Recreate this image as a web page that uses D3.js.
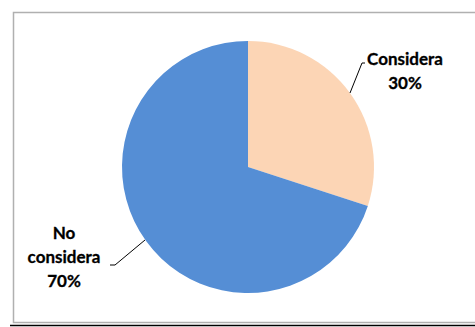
<!DOCTYPE html>
<html>
<head>
<meta charset="utf-8">
<script src="https://cdn.jsdelivr.net/npm/d3@7"></script>
<style>
  html, body { margin: 0; padding: 0; background: #fff; }
  svg { display: block; }
  .lbl { font-family: Lato, "Liberation Sans", sans-serif; font-weight: bold; font-size: 17px; fill: #000; stroke: #000; stroke-width: 0.3px; }
</style>
</head>
<body>
<svg id="chart" width="475" height="327"></svg>
<script>
// Share of respondents
const categories = ["Considera", "No considera"];
const values = [30, 70];
const labelLines = [["Considera", "30%"], ["No", "considera", "70%"]];
const colors = ["#FCD5B5", "#558ED5"];

const svg = d3.select("#chart");

// Outer frame
svg.append("rect")
  .attr("x", 13.5).attr("y", 12.5)
  .attr("width", 470).attr("height", 310)
  .attr("fill", "#fff")
  .attr("stroke", "#b0b0b0").attr("stroke-width", 1.5);
svg.append("line")
  .attr("x1", 10).attr("x2", 475)
  .attr("y1", 325.5).attr("y2", 325.5)
  .attr("stroke", "#000").attr("stroke-width", 1.5);

const cx = 248, cy = 167, r = 126;
const g = svg.append("g").attr("transform", `translate(${cx},${cy})`);

const pie = d3.pie().sort(null).value(d => d.v);
const data = pie(categories.map((c, i) => ({ c, v: values[i], i })));
const arc = d3.arc().innerRadius(0).outerRadius(r);

g.selectAll("path.slice")
  .data(data)
  .join("path")
  .attr("class", "slice")
  .attr("d", arc)
  .attr("fill", (d, i) => colors[i]);

// Label positions and leader lines (relative to centre)
const labelPos = [
  { x: 157, y: -102 },
  { x: -184, y: 72 }
];
const lineStep = 24;
const leaders = [
  [[102, -74], [114, -104], [117, -104]],
  [[-103, 73], [-133, 98], [-138, 98]]
];

g.selectAll("path.leader")
  .data(leaders)
  .join("path")
  .attr("class", "leader")
  .attr("d", d3.line())
  .attr("fill", "none")
  .attr("stroke", "#000")
  .attr("stroke-width", 1);

data.forEach((d, i) => {
  const lines = labelLines[i];
  const p = labelPos[i];
  const t = g.append("text").attr("class", "lbl").attr("text-anchor", "middle");
  lines.forEach((s, k) => {
    t.append("tspan").attr("x", p.x).attr("y", p.y + k * lineStep).text(s);
  });
});
</script>
</body>
</html>
